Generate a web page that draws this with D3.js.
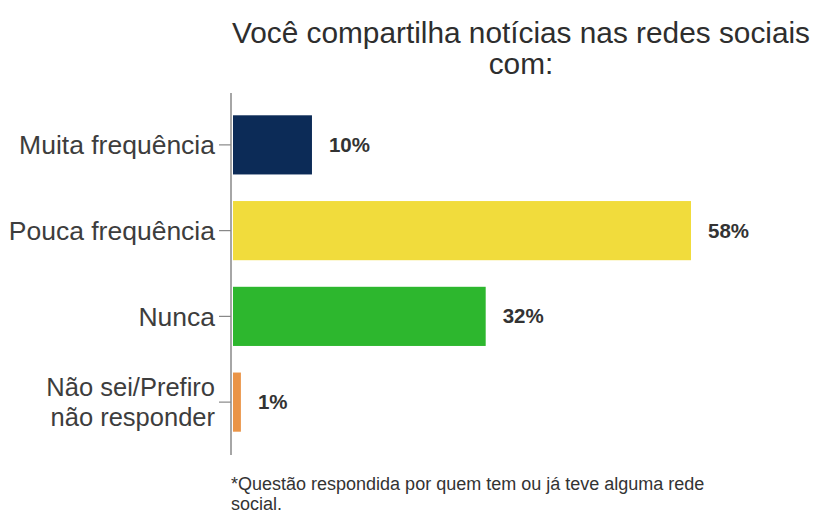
<!DOCTYPE html>
<html><head><meta charset="utf-8">
<script src="https://cdn.jsdelivr.net/npm/d3@7"></script>
<style>body{margin:0;background:#fff}svg{display:block}</style>
</head><body>
<svg id="c" width="813" height="516"></svg>
<script>
const categories = [["Muita frequência"], ["Pouca frequência"], ["Nunca"], ["Não sei/Prefiro", "não responder"]];
const values = [10, 58, 32, 1];
const labels = ["10%", "58%", "32%", "1%"];
const colors = ["#0c2b57", "#f1dc3c", "#2db72e", "#ea9447"];
const title = ["Você compartilha notícias nas redes sociais", "com:"];
const note = ["*Questão respondida por quem tem ou já teve alguma rede", "social."];

const svg = d3.select("#c");
const font = "'Liberation Sans', Arial, sans-serif";
const keys = categories.map(c => c.join(" "));
const x = d3.scaleLinear().domain([0, 58]).range([233, 691]);
const y = d3.scaleBand().domain(keys).range([102, 445]).paddingInner(0.31).paddingOuter(0.155);

svg.append("g").selectAll("text").data(title).join("text")
  .attr("x", 521).attr("y", (d, i) => 43 + i * 31)
  .attr("text-anchor", "middle").attr("font-family", font).attr("font-size", 29.8)
  .attr("fill", "#2e2e2e").text(d => d);

svg.append("g").selectAll("rect").data(values).join("rect")
  .attr("x", x(0)).attr("y", (d, i) => y(keys[i]))
  .attr("width", d => x(d) - x(0)).attr("height", y.bandwidth())
  .attr("fill", (d, i) => colors[i]);

svg.append("g").selectAll("text").data(values).join("text")
  .attr("x", d => x(d) + 17).attr("y", (d, i) => y(keys[i]) + y.bandwidth() / 2 + 7)
  .attr("font-family", font).attr("font-size", 20.5).attr("font-weight", "bold")
  .attr("fill", "#333").text((d, i) => labels[i]);

const ax = svg.append("g").attr("transform", "translate(231,0)")
  .call(d3.axisLeft(y).tickSize(12).tickSizeOuter(0).tickPadding(4));
ax.select(".domain").remove();
ax.selectAll(".tick line").attr("stroke", "#888").attr("stroke-width", 1.2);
ax.selectAll(".tick text").each(function(d) {
  const idx = keys.indexOf(d);
  const lines = categories[idx];
  const fs = lines.length > 1 ? 25.5 : 26.5, lh = 30;
  const t = d3.select(this).text(null).attr("font-family", font).attr("font-size", fs).attr("fill", "#3d3d3d");
  lines.forEach((l, j) => {
    t.append("tspan").attr("x", -16)
      .attr("dy", j === 0 ? (0.35 * fs - (lines.length - 1) * 0.5 * lh) + "px" : lh + "px").text(l);
  });
});
ax.selectAll(".tick text").attr("dy", null);
svg.append("line").attr("x1", 231).attr("x2", 231).attr("y1", 93).attr("y2", 455)
  .attr("stroke", "#888").attr("stroke-width", 1.5);

svg.append("g").selectAll("text").data(note).join("text")
  .attr("x", 231).attr("y", (d, i) => 490 + i * 20)
  .attr("font-family", font).attr("font-size", 18).attr("fill", "#333").text(d => d);
</script>
</body></html>
